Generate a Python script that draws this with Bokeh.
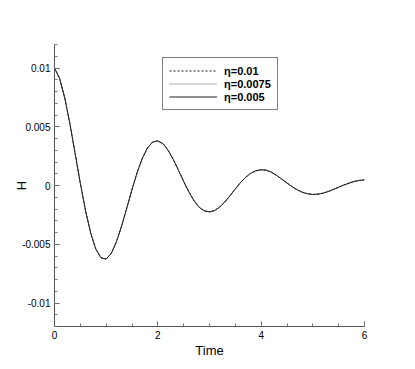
from bokeh.plotting import figure
from bokeh.models import (FixedTicker, CustomJSTickFormatter, Range1d, Legend, LegendItem)
from bokeh.embed import file_html
from bokeh.resources import INLINE

# ---- data ----
time = [round(0.1 * i, 1) for i in range(61)]
h_eta_001 = [
    0.01000, 0.00910, 0.00742, 0.00521, 0.00271, 0.00018, -0.00213, -0.00404, -0.00541, -0.00615,
    -0.00626, -0.00577, -0.00477, -0.00344, -0.00190, -0.00034, 0.00111, 0.00232, 0.00320, 0.00370,
    0.00379, 0.00356, 0.00299, 0.00221, 0.00129, 0.00034, -0.00054, -0.00129, -0.00185, -0.00216,
    -0.00224, -0.00213, -0.00183, -0.00138, -0.00085, -0.00029, 0.00025, 0.00070, 0.00104, 0.00126,
    0.00134, 0.00130, 0.00112, 0.00086, 0.00054, 0.00021, -0.00010, -0.00037, -0.00058, -0.00071,
    -0.00076, -0.00074, -0.00065, -0.00051, -0.00033, -0.00015, 0.00004, 0.00020, 0.00034, 0.00043,
    0.00048,
]
h_eta_00075 = list(h_eta_001)
h_eta_0005 = list(h_eta_001)

series_labels = ["\u03b7=0.01", "\u03b7=0.0075", "\u03b7=0.005"]

x_ticks = [0, 2, 4, 6]
x_minor = [0.5 * i for i in range(13)]
y_ticks = [-0.01, -0.005, 0, 0.005, 0.01]
y_minor = [round(-0.012 + 0.001 * i, 3) for i in range(25)]

FONT = "Liberation Sans"

p = figure(width=405, height=361, output_backend="svg", toolbar_location=None,
           x_range=Range1d(0, 6), y_range=Range1d(-0.012, 0.012),
           min_border_left=54, min_border_right=41, min_border_top=44, min_border_bottom=35)
p.outline_line_color = None
p.xgrid.visible = False
p.ygrid.visible = False

r1 = p.line(time, h_eta_001, line_color="#222222", line_width=1, line_dash="2 2")
r2 = p.line(time, h_eta_00075, line_color="#666666", line_width=1, line_dash="1 1")
r3 = p.line(time, h_eta_0005, line_color="#222222", line_width=1)

fmt = CustomJSTickFormatter(code="return tick.toString();")
for ax, ticks, minor in ((p.xaxis[0], x_ticks, x_minor), (p.yaxis[0], y_ticks, y_minor)):
    ax.ticker = FixedTicker(ticks=ticks, minor_ticks=minor)
    ax.formatter = fmt
    ax.major_tick_in = 5
    ax.major_tick_out = 0
    ax.minor_tick_in = 3
    ax.minor_tick_out = 0
    ax.axis_line_color = "#555555"
    ax.major_tick_line_color = "#555555"
    ax.minor_tick_line_color = "#777777"
    ax.major_label_text_font = FONT
    ax.major_label_text_font_size = "10px"
    ax.major_label_text_color = "black"
    ax.major_label_standoff = 4
    ax.axis_label_text_font = FONT
    ax.axis_label_text_font_size = "13px"
    ax.axis_label_text_font_style = "normal"
    ax.axis_label_text_color = "black"

p.xaxis.axis_label = "Time"
p.yaxis.axis_label = "H"
p.xaxis.axis_label_standoff = 1
p.yaxis.axis_label_standoff = -10

legend = Legend(items=[LegendItem(label=series_labels[0], renderers=[r1]),
                       LegendItem(label=series_labels[1], renderers=[r2]),
                       LegendItem(label=series_labels[2], renderers=[r3])],
                location=(108, 216))
legend.border_line_color = "black"
legend.border_line_width = 1
legend.background_fill_color = "white"
legend.background_fill_alpha = 1
legend.padding = 6
legend.spacing = 0
legend.margin = 0
legend.glyph_width = 48
legend.glyph_height = 13
legend.label_height = 13
legend.label_standoff = 7
legend.label_text_font = FONT
legend.label_text_font_size = "11px"
legend.label_text_font_style = "bold"
legend.label_text_color = "black"
p.add_layout(legend, "center")

open("out.html", "w").write(file_html(p, INLINE))
